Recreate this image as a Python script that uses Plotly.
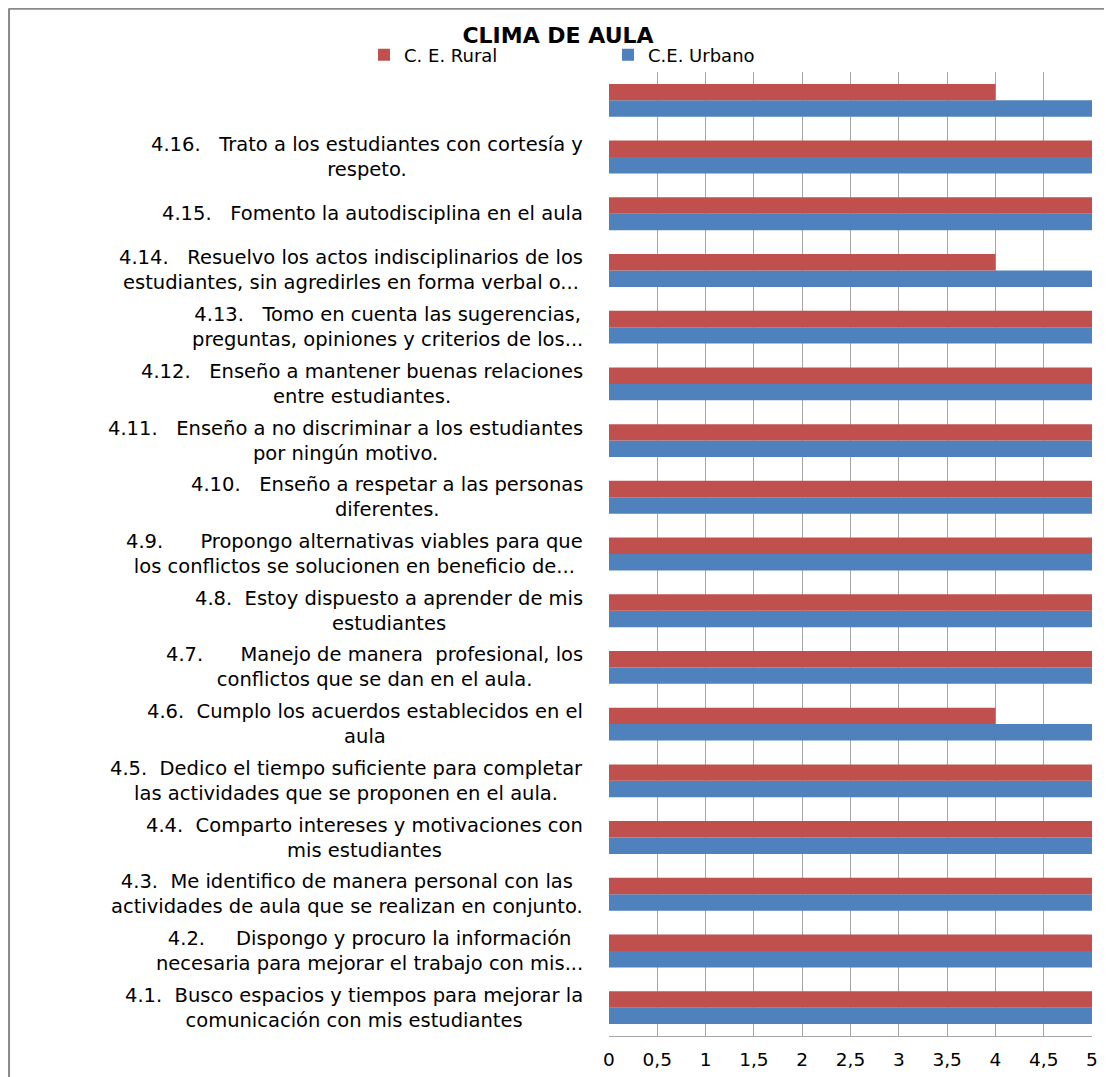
import plotly.graph_objects as go

NB = "\u00a0"

item_ids = ["Q4.1", "Q4.2", "Q4.3", "Q4.4", "Q4.5", "Q4.6", "Q4.7", "Q4.8", "Q4.9",
            "Q4.10", "Q4.11", "Q4.12", "Q4.13", "Q4.14", "Q4.15", "Q4.16", "Qblank"]

item_labels = [
    "4.1." + NB*2 + "Busco espacios y tiempos para mejorar la<br>comunicación con mis estudiantes",
    "4.2." + NB*5 + "Dispongo y procuro la información<br>necesaria para mejorar el trabajo con mis...",
    "4.3." + NB*2 + "Me identifico de manera personal con las<br>actividades de aula que se realizan en conjunto.",
    "4.4." + NB*2 + "Comparto intereses y motivaciones con<br>mis estudiantes",
    "4.5." + NB*2 + "Dedico el tiempo suficiente para completar<br>las actividades que se proponen en el aula.",
    "4.6." + NB*2 + "Cumplo los acuerdos establecidos en el<br>aula",
    "4.7." + NB*6 + "Manejo de manera" + NB*2 + "profesional, los<br>conflictos que se dan en el aula.",
    "4.8." + NB*2 + "Estoy dispuesto a aprender de mis<br>estudiantes",
    "4.9." + NB*6 + "Propongo alternativas viables para que<br>los conflictos se solucionen en beneficio de...",
    "4.10." + NB*3 + "Enseño a respetar a las personas<br>diferentes.",
    "4.11." + NB*3 + "Enseño a no discriminar a los estudiantes<br>por ningún motivo.",
    "4.12." + NB*3 + "Enseño a mantener buenas relaciones<br>entre estudiantes.",
    "4.13." + NB*3 + "Tomo en cuenta las sugerencias,<br>preguntas, opiniones y criterios de los...",
    "4.14." + NB*3 + "Resuelvo los actos indisciplinarios de los<br>estudiantes, sin agredirles en forma verbal o...",
    "4.15." + NB*3 + "Fomento la autodisciplina en el aula",
    "4.16." + NB*3 + "Trato a los estudiantes con cortesía y<br>respeto.",
    "",
]

rural = [5, 5, 5, 5, 5, 4, 5, 5, 5, 5, 5, 5, 5, 4, 5, 5, 4]
urbano = [5, 5, 5, 5, 5, 5, 5, 5, 5, 5, 5, 5, 5, 5, 5, 5, 5]

x_tickvals = [0, 0.5, 1, 1.5, 2, 2.5, 3, 3.5, 4, 4.5, 5]
x_ticktext = ["0", "0,5", "1", "1,5", "2", "2,5", "3", "3,5", "4", "4,5", "5"]

FONT = "DejaVu Sans, sans-serif"

# figure is offset by the page's 8px body margin
W, H = 1104, 1069
ML, MR, MT, MB = 601, 20, 64, 41
PW = W - ML - MR
PH = H - MT - MB

fig = go.Figure()
fig.add_trace(go.Bar(y=item_ids, x=urbano, orientation="h", name="C.E. Urbano",
                     marker=dict(color="#4F81BD", line=dict(width=0)), legend="legend2"))
fig.add_trace(go.Bar(y=item_ids, x=rural, orientation="h", name="C. E. Rural",
                     marker=dict(color="#C0504D", line=dict(width=0)), legend="legend"))

for yid, lab in zip(item_ids, item_labels):
    if lab:
        fig.add_annotation(x=-24 / PW, xref="paper", y=yid, yref="y", text=lab,
                           showarrow=False, xanchor="right", yanchor="middle",
                           align="center", font=dict(family=FONT, size=19.5, color="#000"))

# outer border lines (paper coords)
ytop = (PH + MT - 0.5) / PH
xl = (0.8 - ML) / PW
fig.add_shape(type="line", xref="paper", yref="paper",
              x0=xl, x1=(W + 10 - ML) / PW, y0=ytop, y1=ytop,
              line=dict(color="#8A8A8A", width=2.5))
fig.add_shape(type="line", xref="paper", yref="paper",
              x0=xl, x1=xl, y0=ytop, y1=-(MB + 10) / PH,
              line=dict(color="#8A8A8A", width=2.5))

leg_common = dict(orientation="h", xanchor="left", xref="container",
                  y=1 - 47 / H, yref="container", yanchor="middle",
                  font=dict(family=FONT, size=18, color="#000"),
                  itemsizing="constant", bgcolor="rgba(0,0,0,0)")

fig.update_layout(
    width=W, height=H,
    margin=dict(l=ML, r=MR, t=MT, b=MB, autoexpand=False),
    paper_bgcolor="white", plot_bgcolor="white",
    barmode="group", bargap=0.42, bargroupgap=0,
    title=dict(text="<b>CLIMA DE AULA</b>", x=550 / W, xref="container", xanchor="center",
               y=1 - 27 / H, yanchor="middle", yref="container",
               font=dict(family=FONT, size=22, color="#000")),
    legend=dict(x=356 / W, **leg_common),
    legend2=dict(x=600 / W, **leg_common),
    showlegend=True,
    xaxis=dict(range=[0, 5], tickvals=x_tickvals, ticktext=x_ticktext,
               showgrid=True, gridcolor="#A6A6A6", gridwidth=1,
               showline=True, linecolor="#A6A6A6", linewidth=1,
               zeroline=False, ticks="", ticklabelstandoff=7,
               tickfont=dict(family=FONT, size=18.5, color="#000"), fixedrange=True),
    yaxis=dict(type="category", categoryorder="array", categoryarray=item_ids,
               showticklabels=False, showgrid=False, zeroline=False,
               showline=False, ticks="", range=[-0.5, 16.5]),
)

fig.write_html("out.html")
